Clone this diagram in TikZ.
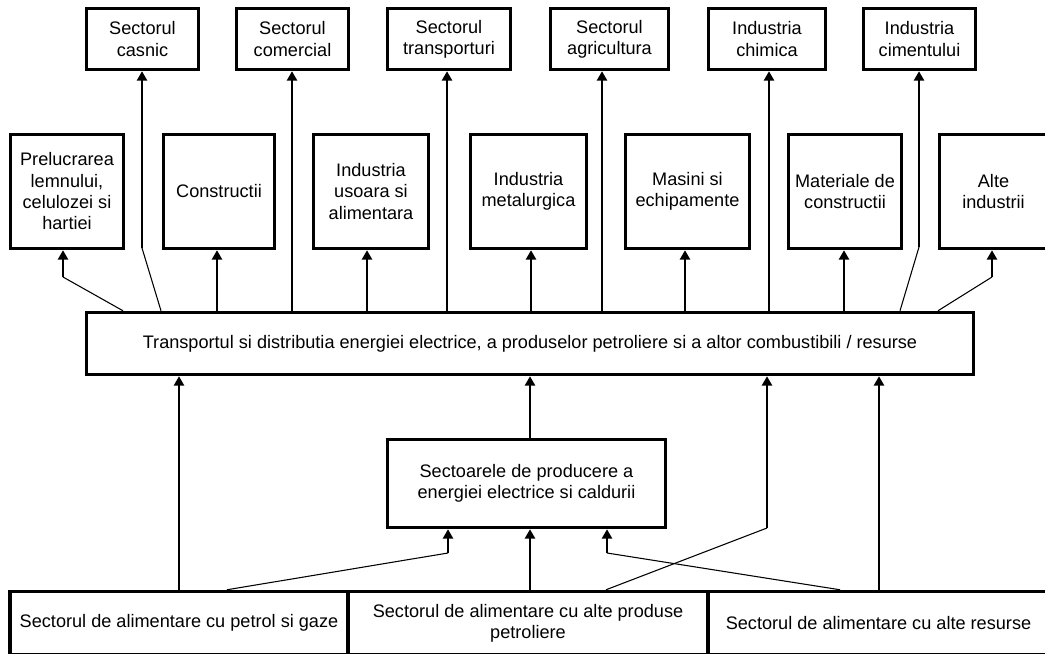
\documentclass[tikz,border=0pt]{standalone}
\usepackage{fontspec}
\setmainfont{Liberation Sans}
\usetikzlibrary{arrows.meta}
\begin{document}
\begin{tikzpicture}[x=0.75pt,y=-0.75pt,
  blk/.style={draw, line width=2.6pt, align=center, inner sep=0pt,
    font=\fontsize{13.6}{16}\selectfont},
  wh/.style 2 args={minimum width=#1*0.75pt, minimum height=#2*0.75pt},
  arr/.style={line width=1.7pt, -{Triangle[width=7.5pt,length=7pt]}},
  feed/.style={line width=0.8pt}]

\useasboundingbox (0,0) rectangle (1045,653);
\fill[white] (0,0) rectangle (1045,653);
\clip (0,0) rectangle (1045,653);

% consumer sectors, top row
\node[blk, wh={112}{61}] (cas) at (142.5,39) {Sectorul\\casnic};
\node[blk, wh={112}{61}] (com) at (292.5,39) {Sectorul\\comercial};
\node[blk, wh={123}{61}] (tra) at (449,39) {Sectorul\\transporturi};
\node[blk, wh={118}{61}] (agr) at (609.5,39) {Sectorul\\agricultura};
\node[blk, wh={117}{61}] (chi) at (767,39) {Industria\\chimica};
\node[blk, wh={112}{61}] (cim) at (919.5,39) {Industria\\cimentului};

% industries, second row
\node[blk, wh={113}{114}] (prl) at (67,191.5) {Prelucrarea\\lemnului,\\celulozei si\\hartiei};
\node[blk, wh={111}{114}] (cst) at (219,191.5) {Constructii};
\node[blk, wh={115}{114}] (uso) at (371,191.5) {Industria\\usoara si\\alimentara};
\node[blk, wh={116}{114}] (met) at (528.5,191.5) {Industria\\metalurgica};
\node[blk, wh={124}{114}] (mas) at (687.5,191.5) {Masini si\\echipamente};
\node[blk, wh={113}{114}] (mat) at (845,191.5) {Materiale de\\constructii};
\node[blk, wh={108}{114}] (alt) at (993.5,191.5) {Alte\\industrii};

% transport and distribution
\node[blk, wh={887}{62}] (td) at (530,343.5) {Transportul si distributia energiei electrice, a produselor petroliere si a altor combustibili / resurse};

% power and heat generation
\node[blk, wh={278}{88}] (gen) at (526.5,483.5) {Sectoarele de producere a\\energiei electrice si caldurii};

% supply sectors, bottom row
\node[blk, wh={338}{63}] (sp1) at (179,623) {Sectorul de alimentare cu petrol si gaze};
\node[blk, wh={360}{63}] (sp2) at (528,623) {Sectorul de alimentare cu alte produse\\petroliere};
\node[blk, wh={341}{63}] (sp3) at (878.5,623) {Sectorul de alimentare cu alte resurse};

% arrow columns and bend points
\foreach \n/\x in {a/161,b/292,c/447,d/602,e/769,f/900,g/123,h/217,i/367,j/531,k/685,l/844,m/938,
                   n/179,o/530,p/606,q/879,r/227,s/840}
  \coordinate (x\n) at (\x,0);
\coordinate (k1) at (142,248);
\coordinate (k6) at (919,247);
\coordinate (k7) at (63,277);
\coordinate (k13) at (992,277);
\coordinate (k16) at (767,528);
\coordinate (k18) at (448,553);
\coordinate (k20) at (607,553);

% distribution to consumers
\draw[feed] (td.north -| xa) -- (k1);
\draw[arr] (k1) -- (cas.south -| k1);
\draw[arr] (td.north -| xb) -- (com.south -| xb);
\draw[arr] (td.north -| xc) -- (tra.south -| xc);
\draw[arr] (td.north -| xd) -- (agr.south -| xd);
\draw[arr] (td.north -| xe) -- (chi.south -| xe);
\draw[feed] (td.north -| xf) -- (k6);
\draw[arr] (k6) -- (cim.south -| k6);

\draw[feed] (td.north -| xg) -- (k7);
\draw[arr] (k7) -- (prl.south -| k7);
\draw[arr] (td.north -| xh) -- (cst.south -| xh);
\draw[arr] (td.north -| xi) -- (uso.south -| xi);
\draw[arr] (td.north -| xj) -- (met.south -| xj);
\draw[arr] (td.north -| xk) -- (mas.south -| xk);
\draw[arr] (td.north -| xl) -- (mat.south -| xl);
\draw[feed] (td.north -| xm) -- (k13);
\draw[arr] (k13) -- (alt.south -| k13);

% supply into distribution
\draw[arr] (sp1.north -| xn) -- (td.south -| xn);
\draw[arr] (gen.north -| xo) -- (td.south -| xo);
\draw[feed] (sp2.north -| xp) -- (k16);
\draw[arr] (k16) -- (td.south -| k16);
\draw[arr] (sp3.north -| xq) -- (td.south -| xq);

% supply into generation
\draw[feed] (sp1.north -| xr) -- (k18);
\draw[arr] (k18) -- (gen.south -| k18);
\draw[arr] (sp2.north -| xo) -- (gen.south -| xo);
\draw[feed] (sp3.north -| xs) -- (k20);
\draw[arr] (k20) -- (gen.south -| k20);
\end{tikzpicture}
\end{document}
